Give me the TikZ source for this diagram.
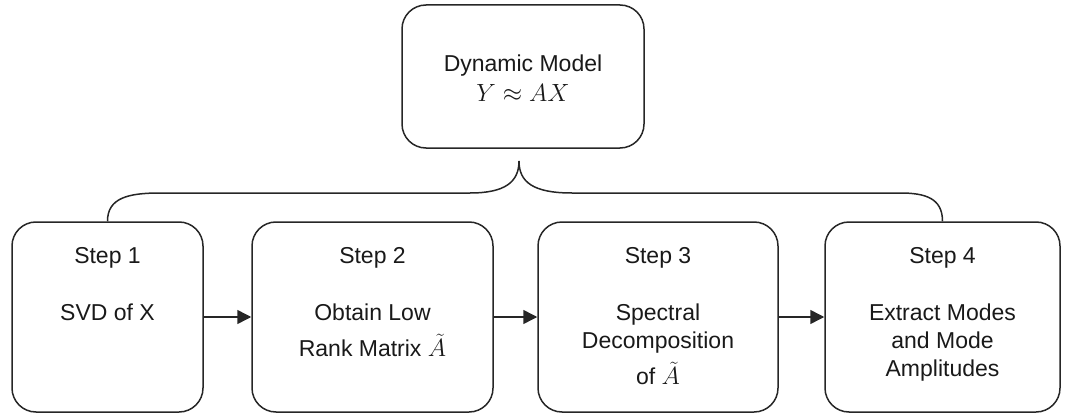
\documentclass[tikz,border=0pt]{standalone}
\usepackage{fontspec}
\setmainfont{Liberation Sans}
\usetikzlibrary{arrows.meta}
\begin{document}
\begin{tikzpicture}[x=1pt,y=-1pt,
  line width=1.5pt,
  every node/.style={text=black!90},
  box/.style={draw=black!85, rounded corners=24pt, inner sep=0pt},
  title/.style={anchor=base, inner sep=0pt, font=\fontsize{23}{28}\selectfont},
  body/.style={anchor=north, inner sep=0pt, align=center, font=\fontsize{23}{28}\selectfont},
  flow/.style={draw=black!85, -{Triangle[length=14pt,width=14pt]}},
  brace/.style={draw=black!85}]
\useasboundingbox (0,0) rectangle (1065,417);

% dynamic model box
\node[box, minimum width=242pt, minimum height=143pt] (model) at (523,76.5) {};
\node[title] (modeltitle) at (523,72) {Dynamic Model};
\node[title, font=\fontsize{25}{28}\selectfont] (modeleq) at (523,102) {$Y \approx AX$};

% step boxes
\node[box, minimum width=191pt, minimum height=190pt] (s1) at (107.5,317) {};
\node[box, minimum width=241pt, minimum height=190pt] (s2) at (372.5,317) {};
\node[box, minimum width=240pt, minimum height=190pt] (s3) at (658,317) {};
\node[box, minimum width=235pt, minimum height=190pt] (s4) at (942.5,317) {};

% step texts
\node[title] (t1) at (107.5,263) {Step 1};
\node[title] (t2) at (372.5,263) {Step 2};
\node[title] (t3) at (658,263) {Step 3};
\node[title] (t4) at (942.5,263) {Step 4};
\node[body] (b1) at (107.5,303) {SVD of X};
\node[body] (b2) at (372.5,303) {Obtain Low\\[8pt]Rank Matrix $\tilde{A}$};
\node[body] (b3) at (658,303) {Spectral\\Decomposition\\[8pt]of $\tilde{A}$};
\node[body] (b4) at (942.5,303) {Extract Modes\\and Mode\\Amplitudes};

% flow arrows
\draw[flow] (s1.east) -- (s2.west);
\draw[flow] (s2.east) -- (s3.west);
\draw[flow] (s3.east) -- (s4.west);

% curly brace tying the steps to the model
\coordinate (tip) at (519,161);
\draw[brace] (s1.north) .. controls (s1.north |- 0,198) and (128,193) .. (160,193)
  -- (470,193) .. controls (505,193) and (519,182) .. (tip)
  .. controls (519,182) and (533,193) .. (572,193)
  -- (900,193) .. controls (925,193) and (s4.north |- 0,198) .. (s4.north);
\end{tikzpicture}
\end{document}
